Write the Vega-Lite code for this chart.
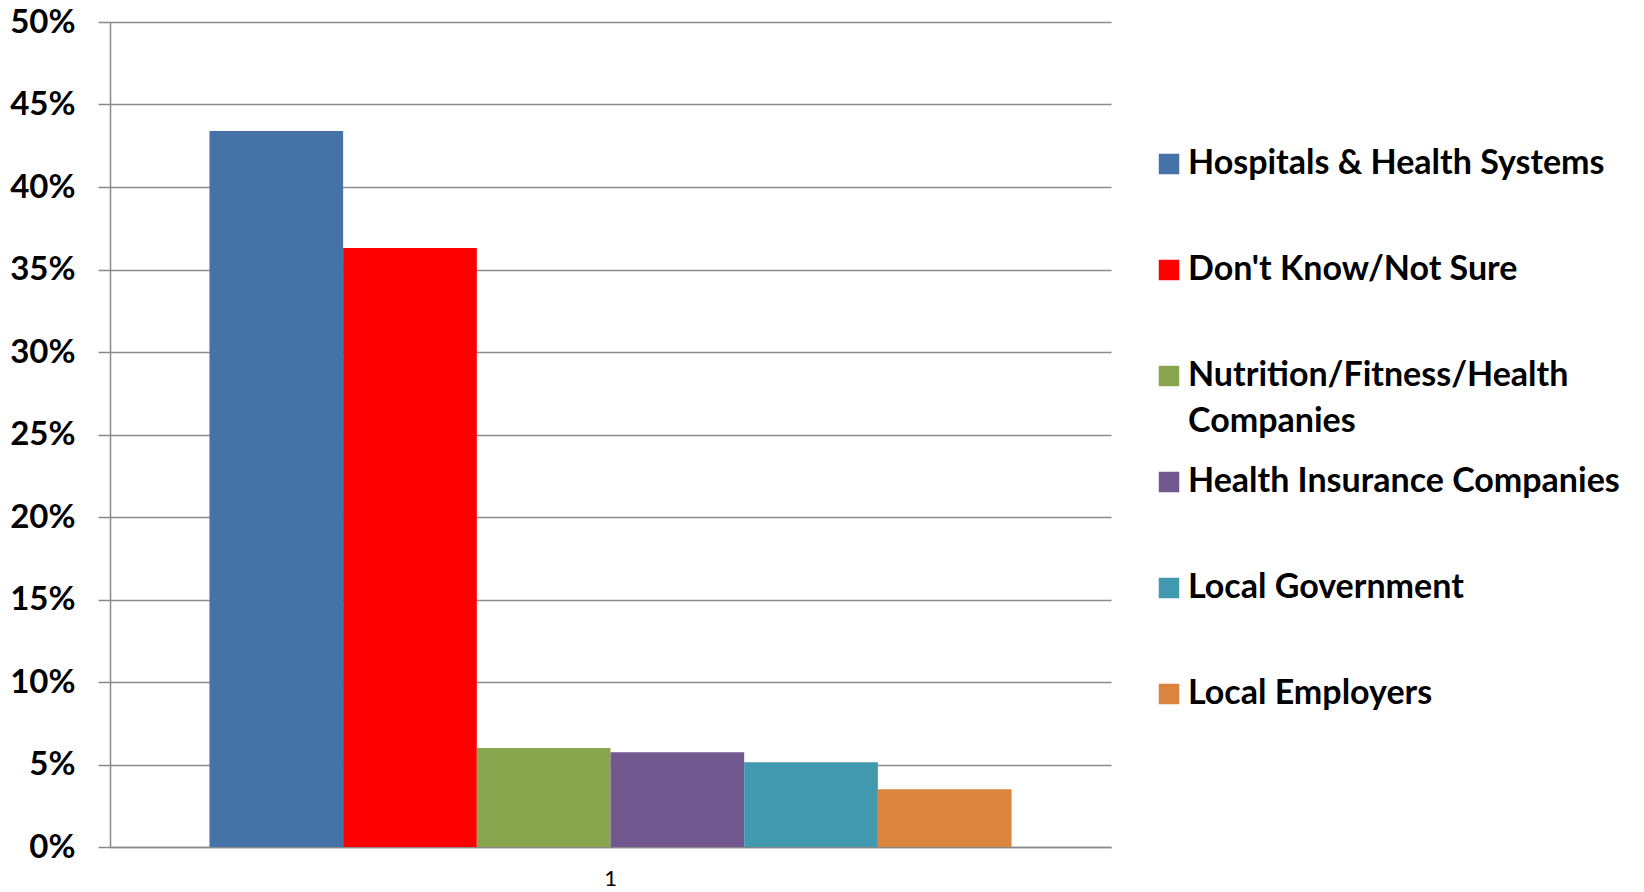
{
  "$schema": "https://vega.github.io/schema/vega-lite/v6.json",
  "width": 1001,
  "height": 825,
  "autosize": {"type": "none"},
  "padding": {"left": 110, "top": 22, "right": 533, "bottom": 45},
  "background": "white",
  "data": {
    "values": [
      {"group": "1", "source": "Hospitals & Health Systems", "value": 0.434},
      {"group": "1", "source": "Don't Know/Not Sure", "value": 0.363},
      {"group": "1", "source": "Nutrition/Fitness/Health Companies", "value": 0.060},
      {"group": "1", "source": "Health Insurance Companies", "value": 0.0575},
      {"group": "1", "source": "Local Government", "value": 0.0514},
      {"group": "1", "source": "Local Employers", "value": 0.035}
    ]
  },
  "mark": {"type": "bar"},
  "encoding": {
    "x": {
      "field": "group",
      "type": "nominal",
      "scale": {"paddingInner": 0, "paddingOuter": 0.124},
      "axis": {
        "title": null,
        "labelAngle": 0,
        "labelFont": "Lato",
        "labelFontSize": 22,
        "labelFontWeight": "normal",
        "labelColor": "black",
        "ticks": false,
        "labelPadding": 21,
        "domainColor": "#898989",
        "domainWidth": 1.5
      }
    },
    "xOffset": {
      "field": "source",
      "type": "nominal",
      "sort": ["Hospitals & Health Systems", "Don't Know/Not Sure", "Nutrition/Fitness/Health Companies", "Health Insurance Companies", "Local Government", "Local Employers"],
      "scale": {"paddingInner": 0, "paddingOuter": 0}
    },
    "y": {
      "field": "value",
      "type": "quantitative",
      "scale": {"domain": [0, 0.5], "nice": false},
      "axis": {
        "title": null,
        "values": [0, 0.05, 0.1, 0.15, 0.2, 0.25, 0.3, 0.35, 0.4, 0.45, 0.5],
        "format": ".0%",
        "labelFont": "Lato",
        "labelFontSize": 33,
        "labelFontWeight": "bold",
        "labelColor": "black",
        "labelPadding": 23,
        "tickSize": 12,
        "tickColor": "#898989",
        "tickWidth": 1.5,
        "domainColor": "#898989",
        "domainWidth": 1.5,
        "grid": true,
        "gridColor": "#8c8c8c",
        "gridWidth": 1.5
      }
    },
    "color": {
      "field": "source",
      "type": "nominal",
      "scale": {
        "domain": ["Hospitals & Health Systems", "Don't Know/Not Sure", "Nutrition/Fitness/Health Companies", "Health Insurance Companies", "Local Government", "Local Employers"],
        "range": ["#4572A7", "#FF0000", "#89A54E", "#71588F", "#4198AF", "#DB843D"]
      },
      "legend": {
        "title": null,
        "orient": "none",
        "legendX": 1042,
        "legendY": 125,
        "symbolType": "square",
        "symbolSize": 420,
        "symbolStrokeWidth": 0,
        "symbolOpacity": 1,
        "labelFont": "Lato",
        "labelFontSize": 34,
        "labelFontWeight": "bold",
        "labelColor": "black",
        "labelLimit": 700,
        "labelOffset": 2,
        "rowPadding": 26,
        "labelExpr": "datum.label == 'Nutrition/Fitness/Health Companies' ? ['Nutrition/Fitness/Health', 'Companies'] : [datum.label, '']"
      }
    }
  },
  "config": {
    "view": {"stroke": null},
    "style": {"guide-label": {"lineHeight": 46}}
  }
}
